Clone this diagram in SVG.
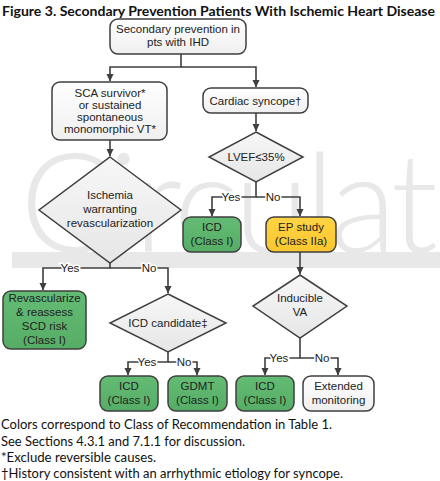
<svg xmlns="http://www.w3.org/2000/svg" width="440" height="481" viewBox="0 0 440 481">
<style>
.t{font-family:"Liberation Sans",Arial,sans-serif;font-size:11.5px;fill:#222;text-anchor:middle}
.lbl{font-family:"Liberation Sans",Arial,sans-serif;font-size:11.5px;fill:#222;text-anchor:middle;stroke:#fff;stroke-width:3px;paint-order:stroke}
.box{stroke:#3f3f3f;stroke-width:1.5}
.w{fill:url(#gw)}
.g{fill:url(#gg)}
.y{fill:url(#gy)}
.d{fill:url(#gd);stroke:#3f3f3f;stroke-width:1.5}
.c{fill:none;stroke:#3f3f3f;stroke-width:1.6}
.fn{font-family:Lato,"Liberation Sans",sans-serif;font-size:12.5px;fill:#111}
</style>
<defs>
<linearGradient id="gw" x1="0" y1="0" x2="0" y2="1"><stop offset="0" stop-color="#ffffff"/><stop offset="1" stop-color="#efefef"/></linearGradient>
<linearGradient id="gg" x1="0" y1="0" x2="0" y2="1"><stop offset="0" stop-color="#63bb74"/><stop offset="1" stop-color="#56ae66"/></linearGradient>
<linearGradient id="gy" x1="0" y1="0" x2="0" y2="1"><stop offset="0" stop-color="#ffd444"/><stop offset="1" stop-color="#f9c72f"/></linearGradient>
<linearGradient id="gd" x1="0" y1="0" x2="0" y2="1"><stop offset="0" stop-color="#f7f7f7"/><stop offset="1" stop-color="#e6e6e6"/></linearGradient>
<marker id="ah" markerWidth="8" markerHeight="8" refX="7" refY="4" orient="auto" markerUnits="userSpaceOnUse"><path d="M0,0.5 L7.5,4 L0,7.5 Z" fill="#3f3f3f"/></marker>
</defs>
<rect width="440" height="481" fill="#fff"/>
<g id="watermark">
<text x="20" y="252" font-family="Lato,'Liberation Sans',sans-serif" font-weight="300" font-size="138" fill="#e8e8e8" textLength="418" lengthAdjust="spacing">Circulat</text>
<rect x="12" y="252" width="428" height="16" fill="#e8e8e8"/>
</g>
<text x="2" y="15.5" font-family="Lato,'Liberation Sans',sans-serif" font-weight="bold" font-size="14" fill="#111" textLength="433" lengthAdjust="spacingAndGlyphs">Figure 3. Secondary Prevention Patients With Ischemic Heart Disease</text>

<g id="connectors">
<path class="c" d="M181,54 V67 H110 V81" marker-end="url(#ah)"/>
<path class="c" d="M181,67 H256 V87" marker-end="url(#ah)"/>
<path class="c" d="M110,140 V156" marker-end="url(#ah)"/>
<path class="c" d="M256,113 V131" marker-end="url(#ah)"/>
<path class="c" d="M110,263 V268 H43 V290" marker-end="url(#ah)"/>
<path class="c" d="M110,268 H168 V293" marker-end="url(#ah)"/>
<path class="c" d="M256,182 V197 H212 V216" marker-end="url(#ah)"/>
<path class="c" d="M256,197 H300 V216" marker-end="url(#ah)"/>
<path class="c" d="M300,252 V274" marker-end="url(#ah)"/>
<path class="c" d="M168,352 V362 H128 V375" marker-end="url(#ah)"/>
<path class="c" d="M168,362 H197 V375" marker-end="url(#ah)"/>
<path class="c" d="M300,338 V358 H265 V375" marker-end="url(#ah)"/>
<path class="c" d="M300,358 H338 V375" marker-end="url(#ah)"/>
<text class="lbl" x="70" y="272">Yes</text>
<text class="lbl" x="149" y="272">No</text>
<text class="lbl" x="231" y="201">Yes</text>
<text class="lbl" x="273" y="201">No</text>
<text class="lbl" x="147" y="366">Yes</text>
<text class="lbl" x="184" y="366">No</text>
<text class="lbl" x="279" y="362">Yes</text>
<text class="lbl" x="322" y="362">No</text>
</g>

<g id="start">
<rect class="box w" x="110" y="19" width="136" height="35" rx="8"/>
<text class="t" x="178" y="33">Secondary prevention in</text>
<text class="t" x="178" y="46">pts with IHD</text>
</g>
<g id="sca">
<rect class="box w" x="52" y="82" width="115" height="58" rx="8"/>
<text class="t" x="110" y="97">SCA survivor*</text>
<text class="t" x="110" y="109">or sustained</text>
<text class="t" x="110" y="121">spontaneous</text>
<text class="t" x="110" y="133">monomorphic VT*</text>
</g>
<g id="syncope">
<rect class="box w" x="203" y="88" width="105" height="25" rx="8"/>
<text class="t" x="255.5" y="105">Cardiac syncope†</text>
</g>
<g id="ischemia">
<polygon class="d" points="110,157 181,210 110,263 39,210"/>
<text class="t" x="110" y="199">Ischemia</text>
<text class="t" x="110" y="213">warranting</text>
<text class="t" x="110" y="227">revascularization</text>
</g>
<g id="lvef">
<polygon class="d" points="256,132 303,157 256,182 209,157"/>
<text class="t" x="256" y="161">LVEF≤35%</text>
</g>
<g id="icd-lvef">
<rect class="box g" x="183" y="217" width="58" height="35" rx="8"/>
<text class="t" x="212" y="231">ICD</text>
<text class="t" x="212" y="245">(Class I)</text>
</g>
<g id="ep">
<rect class="box y" x="266" y="217" width="70" height="35" rx="8"/>
<text class="t" x="301" y="231">EP study</text>
<text class="t" x="301" y="245">(Class IIa)</text>
</g>
<g id="revasc">
<rect class="box g" x="3" y="291" width="83" height="58" rx="8"/>
<text class="t" x="44.5" y="302">Revascularize</text>
<text class="t" x="44.5" y="316">&amp; reassess</text>
<text class="t" x="44.5" y="330">SCD risk</text>
<text class="t" x="44.5" y="344">(Class I)</text>
</g>
<g id="icdcand">
<polygon class="d" points="168,294 226,323 168,352 110,323"/>
<text class="t" x="168" y="327">ICD candidate‡</text>
</g>
<g id="inducible">
<polygon class="d" points="300,275 347,306 300,338 253,306"/>
<text class="t" x="300" y="302">Inducible</text>
<text class="t" x="300" y="316">VA</text>
</g>
<g id="icd1">
<rect class="box g" x="100" y="376" width="58" height="35" rx="8"/>
<text class="t" x="129" y="390">ICD</text>
<text class="t" x="129" y="404">(Class I)</text>
</g>
<g id="gdmt">
<rect class="box g" x="168" y="376" width="59" height="35" rx="8"/>
<text class="t" x="197.5" y="390">GDMT</text>
<text class="t" x="197.5" y="404">(Class I)</text>
</g>
<g id="icd2">
<rect class="box g" x="236" y="376" width="58" height="35" rx="8"/>
<text class="t" x="265" y="390">ICD</text>
<text class="t" x="265" y="404">(Class I)</text>
</g>
<g id="extended">
<rect class="box w" x="303" y="376" width="71" height="35" rx="8"/>
<text class="t" x="338.5" y="390">Extended</text>
<text class="t" x="338.5" y="404">monitoring</text>
</g>

<g id="footnotes">
<text class="fn" x="1" y="429" textLength="331" lengthAdjust="spacingAndGlyphs">Colors correspond to Class of Recommendation in Table 1.</text>
<text class="fn" x="1" y="446" textLength="244" lengthAdjust="spacingAndGlyphs">See Sections 4.3.1 and 7.1.1 for discussion.</text>
<text class="fn" x="1" y="462" textLength="155" lengthAdjust="spacingAndGlyphs">*Exclude reversible causes.</text>
<text class="fn" x="1" y="478" textLength="342" lengthAdjust="spacingAndGlyphs">†History consistent with an arrhythmic etiology for syncope.</text>
</g>
</svg>
